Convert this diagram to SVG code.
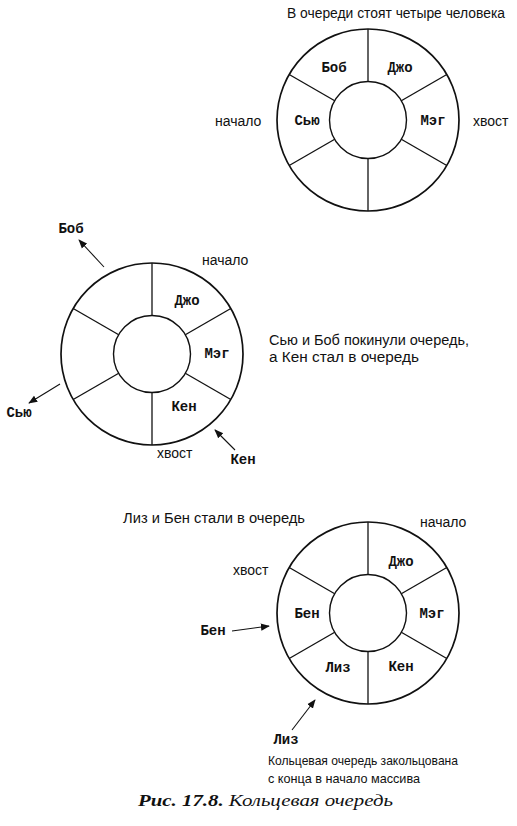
<svg xmlns="http://www.w3.org/2000/svg" xmlns:xlink="http://www.w3.org/1999/xlink" width="517" height="826" viewBox="0 0 517 826">
<style>
.bg{fill:#fff}
.outer{fill:none;stroke:#111;stroke-width:1.7}
.inner{fill:#fff;stroke:#111;stroke-width:1.4}
.div{stroke:#111;stroke-width:1.3}
.slot{font-family:"Liberation Mono","DejaVu Sans Mono",monospace;font-weight:bold;font-size:14px;fill:#111;text-anchor:middle}
.lbl{font-family:"Liberation Sans","DejaVu Sans",sans-serif;font-size:14px;fill:#111}
.note{font-family:"Liberation Sans","DejaVu Sans",sans-serif;font-size:13px;fill:#111}
.arr{stroke:#111;stroke-width:1.1;fill:none;marker-end:url(#ah)}
.cap{font-family:"Liberation Serif","DejaVu Serif",serif;font-style:italic;font-size:16px;fill:#111}
</style>
<defs>
<marker id="ah" viewBox="0 0 10 10" refX="9" refY="5" markerWidth="9" markerHeight="9" markerUnits="userSpaceOnUse" orient="auto">
<path d="M0,1 L10,5 L0,9 Z" fill="#111"/>
</marker>
<g id="ring">
<circle class="outer" cx="0" cy="0" r="91"/>
<circle class="inner" cx="0" cy="0" r="38.5"/>
<line class="div" x1="0" y1="-38.5" x2="0" y2="-91"/>
<line class="div" x1="0" y1="38.5" x2="0" y2="91"/>
<line class="div" x1="33.3" y1="-19.25" x2="78.8" y2="-45.5"/>
<line class="div" x1="33.3" y1="19.25" x2="78.8" y2="45.5"/>
<line class="div" x1="-33.3" y1="-19.25" x2="-78.8" y2="-45.5"/>
<line class="div" x1="-33.3" y1="19.25" x2="-78.8" y2="45.5"/>
</g>
</defs>
<rect class="bg" x="0" y="0" width="517" height="826"/>

<g id="queue1">
<use xlink:href="#ring" href="#ring" x="368" y="120"/>
<text class="slot" x="334" y="72">Боб</text>
<text class="slot" x="400" y="72">Джо</text>
<text class="slot" x="307" y="125">Сью</text>
<text class="slot" x="433" y="125">Мэг</text>
</g>
<g id="queue1-labels">
<text class="lbl" x="287" y="18" textLength="218" lengthAdjust="spacingAndGlyphs">В очереди стоят четыре человека</text>
<text class="lbl" x="215" y="126">начало</text>
<text class="lbl" x="473" y="126">хвост</text>
</g>

<g id="queue2">
<use xlink:href="#ring" href="#ring" x="152" y="354"/>
<text class="slot" x="187" y="305">Джо</text>
<text class="slot" x="217" y="358">Мэг</text>
<text class="slot" x="184" y="411">Кен</text>
</g>
<g id="queue2-labels">
<text class="lbl" x="202" y="265">начало</text>
<text class="lbl" x="157" y="458">хвост</text>
<text class="lbl" x="269" y="345" textLength="200" lengthAdjust="spacingAndGlyphs">Сью и Боб покинули очередь,</text>
<text class="lbl" x="269" y="362" textLength="150" lengthAdjust="spacingAndGlyphs">а Кен стал в очередь</text>
<text class="slot" x="71" y="233">Боб</text>
<text class="slot" x="19" y="417">Сью</text>
<text class="slot" x="243" y="464">Кен</text>
</g>

<g id="queue3">
<use xlink:href="#ring" href="#ring" x="368" y="613"/>
<text class="slot" x="401" y="566">Джо</text>
<text class="slot" x="432" y="618">Мэг</text>
<text class="slot" x="307" y="618">Бен</text>
<text class="slot" x="338" y="672">Лиз</text>
<text class="slot" x="401" y="671">Кен</text>
</g>
<g id="queue3-labels">
<text class="lbl" x="123" y="523" textLength="182" lengthAdjust="spacingAndGlyphs">Лиз и Бен стали в очередь</text>
<text class="lbl" x="420" y="527">начало</text>
<text class="lbl" x="233" y="575">хвост</text>
<text class="slot" x="213" y="635">Бен</text>
<text class="slot" x="286" y="744">Лиз</text>
<text class="note" x="268" y="765" textLength="190" lengthAdjust="spacingAndGlyphs">Кольцевая очередь закольцована</text>
<text class="note" x="268" y="783" textLength="152" lengthAdjust="spacingAndGlyphs">с конца в начало массива</text>
</g>

<g id="connectors">
<line class="arr" x1="104" y1="267" x2="79" y2="240"/>
<line class="arr" x1="60" y1="384" x2="29" y2="403"/>
<line class="arr" x1="235" y1="450" x2="215" y2="430"/>
<line class="arr" x1="232" y1="631" x2="269" y2="626"/>
<line class="arr" x1="292" y1="730" x2="315" y2="700"/>
</g>

<text class="cap" x="138" y="806" textLength="255" lengthAdjust="spacingAndGlyphs"><tspan font-weight="bold">Рис. 17.8.</tspan> Кольцевая очередь</text>
</svg>
